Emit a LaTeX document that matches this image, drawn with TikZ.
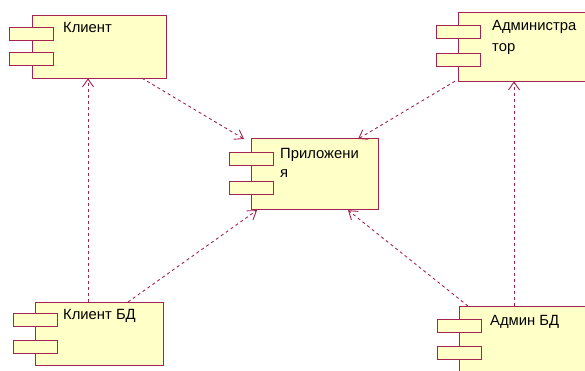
\documentclass[tikz,border=0pt]{standalone}
\usepackage{fontspec}
\setmainfont{Liberation Sans}
\usetikzlibrary{arrows.meta}
\definecolor{umlline}{RGB}{165,35,80}
\definecolor{umlfill}{RGB}{255,255,200}
\tikzset{
  compbody/.style={draw=umlline, fill=umlfill, line width=1.2pt, anchor=north west, inner sep=0pt},
  comptab/.style={draw=umlline, fill=umlfill, line width=1.2pt, anchor=north west, inner sep=0pt,
    minimum width=44pt, minimum height=13pt},
  lbl/.style={anchor=base west, inner sep=0pt, font=\fontsize{14.8}{17}\selectfont, text=black},
  dep/.style={draw=umlline, line width=0.9pt, dash pattern=on 3pt off 3pt,
    -{Straight Barb[length=8pt,width=11pt,line width=0.9pt]}}
}
\begin{document}
\begin{tikzpicture}[x=1pt,y=-1pt]
\useasboundingbox (0,0) rectangle (585,370);
\clip (0,0) rectangle (585,370);

% Клиент
\node[compbody, minimum width=134pt, minimum height=63pt] (kl) at (32,15) {};
\node[comptab] (klt1) at (9,27) {};
\node[comptab] (klt2) at (9,52) {};
\node[lbl] (kltx) at (63,32) {Клиент};

% Администратор
\node[compbody, minimum width=140pt, minimum height=69pt] (adm) at (458,12) {};
\node[comptab] (admt1) at (436,25) {};
\node[comptab] (admt2) at (436,53) {};
\node[lbl] (admtx1) at (492,30) {Администра};
\node[lbl] (admtx2) at (492,51) {тор};

% Приложения
\node[compbody, minimum width=127pt, minimum height=71pt] (app) at (251,138) {};
\node[comptab] (appt1) at (229,152) {};
\node[comptab] (appt2) at (229,181) {};
\node[lbl] (apptx1) at (280,158) {Приложени};
\node[lbl] (apptx2) at (280,177) {я};

% Клиент БД
\node[compbody, minimum width=128pt, minimum height=63pt] (kbd) at (35,302) {};
\node[comptab] (kbdt1) at (13,313) {};
\node[comptab] (kbdt2) at (13,340) {};
\node[lbl] (kbdtx) at (63,319) {Клиент БД};

% Админ БД
\node[compbody, minimum width=140pt, minimum height=80pt] (abd) at (459,306) {};
\node[comptab] (abdt1) at (437,319) {};
\node[comptab] (abdt2) at (437,346) {};
\node[lbl] (abdtx) at (490,325) {Админ БД};

% Зависимости
\draw[dep] ([xshift=53pt]kbd.north west) -- ([xshift=56pt,yshift=1pt]kl.south west);
\draw[dep] ([xshift=93pt]kbd.north west) -- ([xshift=6pt]app.south west);
\draw[dep] ([xshift=110pt,yshift=1pt]kl.south west) -- ([xshift=-7pt,yshift=-1pt]app.north west);
\draw[dep] ([xshift=-3pt,yshift=1pt]adm.south west) -- ([xshift=107pt,yshift=-1pt]app.north west);
\draw[dep] ([xshift=55pt]abd.north west) -- ([xshift=56pt,yshift=1pt]adm.south west);
\draw[dep] ([xshift=9pt]abd.north west) -- ([xshift=97pt]app.south west);
\end{tikzpicture}
\end{document}
